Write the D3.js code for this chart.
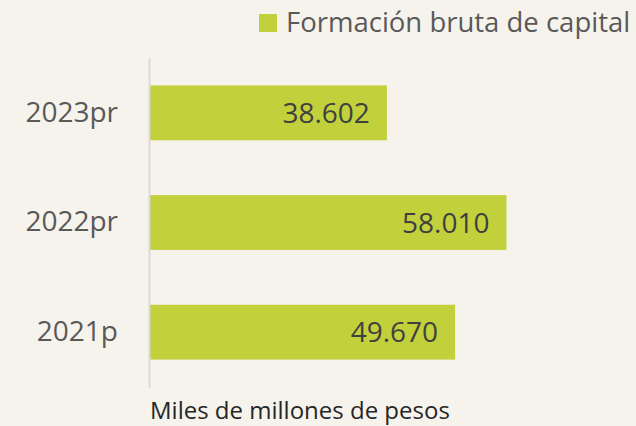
<!DOCTYPE html>
<html>
<head>
<meta charset="utf-8">
<script src="https://cdn.jsdelivr.net/npm/d3@7"></script>
<style>
  body { margin: 0; background: #f6f3ed; }
  svg { display: block; font-family: "Open Sans", sans-serif; }
</style>
</head>
<body>
<svg width="636" height="426"></svg>
<script>
// data
var categories = ["2023pr", "2022pr", "2021p"];
var values = [38602, 58010, 49670];
var seriesName = "Formación bruta de capital";
var unitLabel = "Miles de millones de pesos";

var svg = d3.select("svg");

svg.append("rect")
    .attr("width", 636)
    .attr("height", 426)
    .attr("fill", "#f6f3ed");

var scaleX = d3.scaleLinear()
    .domain([0, 80000])
    .range([149, 642]);

var scaleY = d3.scaleBand()
    .domain(categories)
    .range([58, 387])
    .paddingInner(0.5)
    .paddingOuter(0.25);

// bars
svg.selectAll("rect.bar")
    .data(values)
    .enter().append("rect")
    .attr("class", "bar")
    .attr("x", scaleX(0))
    .attr("y", function(d, i) { return scaleY(categories[i]); })
    .attr("width", function(d) { return scaleX(d) - scaleX(0); })
    .attr("height", scaleY.bandwidth())
    .attr("fill", "#c2d03b");

// value labels
svg.selectAll("text.val")
    .data(values)
    .enter().append("text")
    .attr("class", "val")
    .attr("x", function(d) { return scaleX(d) - 17; })
    .attr("y", function(d, i) { return scaleY(categories[i]) + scaleY.bandwidth() / 2; })
    .attr("dy", "0.36em")
    .attr("text-anchor", "end")
    .attr("font-size", 28)
    .attr("fill", "#404040")
    .text(function(d) { return d3.format(",")(d).replace(",", "."); });

// axis line
var axis = svg.append("g")
    .attr("transform", "translate(" + scaleX(0) + ",0)")
    .call(d3.axisLeft(scaleY).tickSize(0).tickPadding(31));

axis.select(".domain")
    .attr("stroke", "#d9d9d9")
    .attr("stroke-width", 2);

axis.selectAll("text")
    .attr("font-family", "Open Sans, sans-serif")
    .attr("font-size", 28)
    .attr("fill", "#595959");

// legend
svg.append("rect")
    .attr("x", 259)
    .attr("y", 14)
    .attr("width", 18)
    .attr("height", 18)
    .attr("fill", "#c2d03b");

svg.append("text")
    .attr("x", 286)
    .attr("y", 32)
    .attr("font-size", 27.5)
    .attr("fill", "#595959")
    .text(seriesName);

// unit label
svg.append("text")
    .attr("x", 150)
    .attr("y", 419)
    .attr("font-size", 24)
    .attr("fill", "#262626")
    .text(unitLabel);
</script>
</body>
</html>
